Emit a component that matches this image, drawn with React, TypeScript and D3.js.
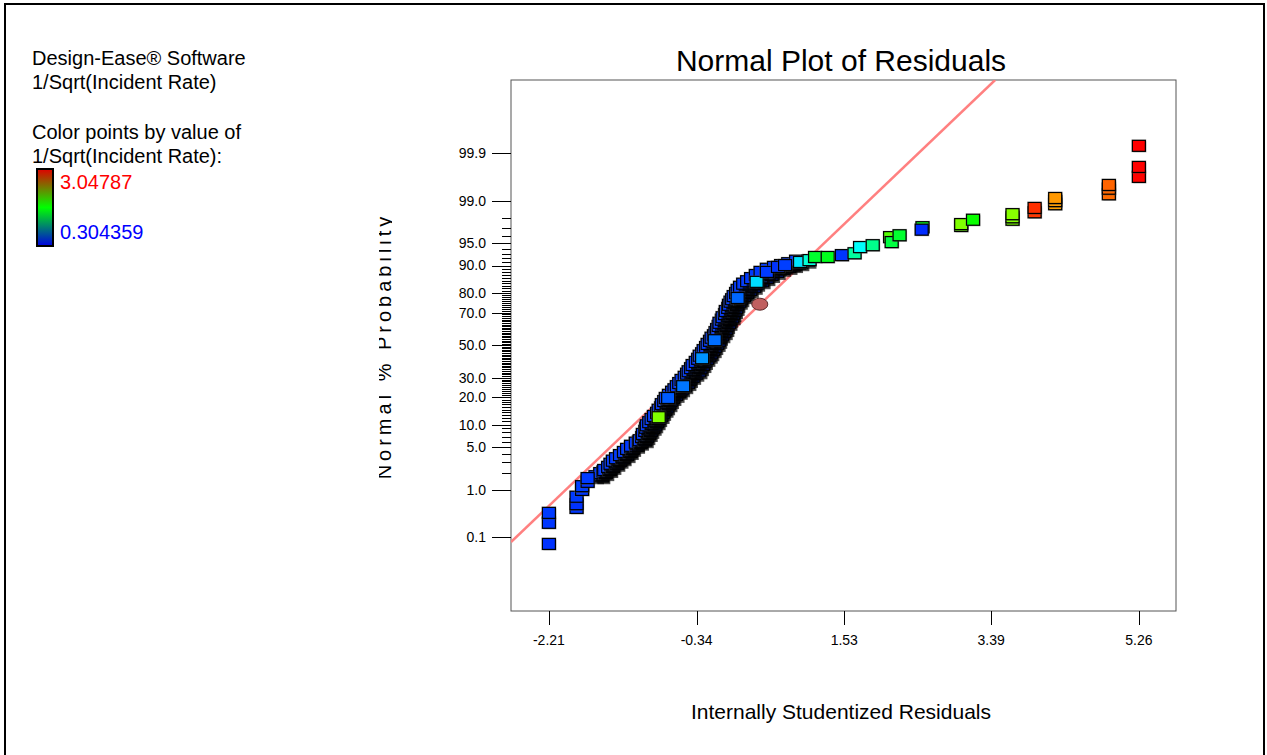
import React from 'react';
import * as d3 from 'd3';

// ---------- data ----------
const X_TICKS = [-2.21, -0.34, 1.53, 3.39, 5.26];
const PROB_LABELS = [0.1, 1, 5, 10, 20, 30, 50, 70, 80, 90, 95, 99, 99.9];
const PROB_LABEL_TEXT = ['0.1', '1.0', '5.0', '10.0', '20.0', '30.0', '50.0', '70.0', '80.0', '90.0', '95.0', '99.0', '99.9'];

const COLOR_MIN = 0.304359;
const COLOR_MAX = 3.04787;

// dense central band: one row per normal score, two residuals per row
const BAND_SCORE = [
  -2.11, -2.06, -2.01, -1.96, -1.91, -1.86, -1.82, -1.77, -1.72, -1.67, -1.62, -1.57, -1.53, -1.48, -1.43, -1.38,
  -1.33, -1.29, -1.24, -1.19, -1.14, -1.09, -1.04, -1.0, -0.95, -0.9, -0.85, -0.8, -0.75, -0.71, -0.66,
  -0.61, -0.56, -0.51, -0.46, -0.42, -0.37, -0.32, -0.27, -0.22, -0.17, -0.13, -0.08, -0.03, 0.02, 0.07, 0.12,
  0.16, 0.21, 0.26, 0.31, 0.36, 0.41, 0.45, 0.5, 0.55, 0.6, 0.65, 0.7, 0.74, 0.79, 0.84, 0.89, 0.94, 0.99,
  1.03, 1.08, 1.13, 1.18, 1.23, 1.26, 1.29, 1.32, 1.36,
];
const BAND_LEFT = [
  -1.62, -1.56, -1.51, -1.46, -1.43, -1.4, -1.36, -1.31, -1.26, -1.22, -1.17, -1.11, -1.06, -1.03, -1.02, -0.99,
  -0.98, -0.97, -0.94, -0.91, -0.88, -0.84, -0.82, -0.79, -0.78, -0.75, -0.73, -0.69, -0.65, -0.62, -0.59,
  -0.56, -0.53, -0.49, -0.46, -0.44, -0.41, -0.39, -0.35, -0.32, -0.3, -0.27, -0.25, -0.22, -0.2, -0.17, -0.15,
  -0.12, -0.1, -0.08, -0.06, -0.05, -0.02, -0.01, 0.02, 0.03, 0.06, 0.07, 0.09, 0.11, 0.13, 0.16, 0.18, 0.21, 0.25,
  0.3, 0.35, 0.41, 0.47, 0.55, 0.64, 0.73, 0.82, 0.92,
];
const BAND_RIGHT = [
  -1.54, -1.49, -1.44, -1.4, -1.35, -1.31, -1.27, -1.22, -1.18, -1.15, -1.1, -1.05, -0.99, -0.97, -0.94, -0.92,
  -0.89, -0.87, -0.84, -0.82, -0.79, -0.77, -0.74, -0.72, -0.69, -0.67, -0.64, -0.6, -0.56, -0.53, -0.49,
  -0.45, -0.43, -0.39, -0.35, -0.31, -0.29, -0.26, -0.24, -0.21, -0.18, -0.16, -0.13, -0.11, -0.08, -0.06, -0.05,
  -0.02, 0.01, 0.03, 0.04, 0.07, 0.08, 0.11, 0.12, 0.14, 0.16, 0.17, 0.2, 0.22, 0.26, 0.3, 0.34, 0.39, 0.42,
  0.49, 0.55, 0.61, 0.68, 0.75, 0.83, 0.9, 0.98, 1.07,
];
// in-between points of the band
const BAND_MID_SCORE = [
  -2.085, -2.035, -1.985, -1.935, -1.885, -1.84, -1.795, -1.745, -1.695, -1.645, -1.595, -1.55, -1.505, -1.455, -1.405,
  -1.355, -1.31, -1.265, -1.215, -1.165, -1.115, -1.065, -1.02, -0.975, -0.925, -0.875, -0.825, -0.775, -0.73, -0.685,
  -0.635, -0.585, -0.535, -0.485, -0.44, -0.395, -0.345, -0.295, -0.245, -0.195, -0.15, -0.105, -0.055, -0.005, 0.045,
  0.095, 0.14, 0.185, 0.235, 0.285, 0.335, 0.385, 0.43, 0.475, 0.525, 0.575, 0.625, 0.675, 0.72, 0.765, 0.815, 0.865,
  0.915, 0.965, 1.01, 1.055, 1.105, 1.155, 1.205, 1.245, 1.275, 1.305, 1.34,
];
const BAND_MID_RESID = [
  -1.55, -1.52, -1.45, -1.42, -1.36, -1.34, -1.28, -1.25, -1.19, -1.17, -1.1, -1.07, -1.01, -1.0, -0.96,
  -0.95, -0.92, -0.91, -0.87, -0.86, -0.82, -0.81, -0.77, -0.76, -0.72, -0.71, -0.66, -0.64, -0.58, -0.57,
  -0.51, -0.5, -0.45, -0.43, -0.39, -0.38, -0.34, -0.32, -0.28, -0.26, -0.22, -0.21, -0.17, -0.16, -0.12,
  -0.11, -0.07, -0.06, -0.03, -0.02, 0.01, 0.02, 0.05, 0.06, 0.08, 0.1, 0.11, 0.14, 0.15, 0.19, 0.22, 0.27,
  0.29, 0.33, 0.38, 0.44, 0.48, 0.56, 0.61, 0.7, 0.77, 0.87, 0.94,
];
const BAND_LEFT_VALUE = 0.46;
const BAND_RIGHT_VALUE = 0.42;
const BAND_MID_VALUE = 0.5;

// individually visible points (drawn in this order, later on top)
const PT_RESID = [
  -2.21, -2.21, -2.21, -1.86, -1.86, -1.86, -1.79, -1.79, -1.72, -1.72,
  -0.7, -0.51, -0.82, -0.27, -0.11, 0.18, 0.42, 0.55, 0.69, 0.78,
  0.97, 1.09, 1.16, 1.32, 1.5, 1.66, 1.73, 1.89, 2.11, 2.13, 2.23, 2.52, 2.51,
  3.01, 3.01, 3.16, 3.66, 3.66, 3.66, 3.94, 3.94, 4.2, 4.2, 4.2, 4.88, 4.88, 4.88,
  5.26, 5.26, 5.26,
];
const PT_SCORE = [
  -3.2, -2.86, -2.7, -2.62, -2.56, -2.44, -2.33, -2.27, -2.2, -2.14,
  -0.85, -0.66, -1.16, -0.21, 0.08, 0.76, 1.02, 1.18, 1.26, 1.29,
  1.34, 1.37, 1.42, 1.42, 1.45, 1.48, 1.58, 1.61, 1.74, 1.66, 1.77, 1.9, 1.86,
  1.92, 1.95, 2.02, 2.02, 2.06, 2.11, 2.14, 2.21, 2.27, 2.32, 2.37, 2.43, 2.52, 2.58,
  2.71, 2.87, 3.21,
];
const PT_VALUE = [
  0.44, 0.45, 0.46, 0.45, 0.44, 0.46, 0.45, 0.47, 0.44, 0.46,
  0.55, 0.62, 2.02, 0.7, 0.6, 0.58, 0.9, 0.46, 0.44, 0.47,
  0.92, 1.1, 1.55, 1.6, 0.45, 1.25, 1.0, 1.3, 1.9, 1.5, 1.55, 1.6, 0.42,
  1.95, 2.02, 1.7, 2.0, 2.02, 2.04, 2.9, 2.92, 2.62, 2.63, 2.64, 2.76, 2.77, 2.78,
  3.04, 3.045, 3.04787,
];

// highlighted (selected) run shown as an ellipse
const SELECTED_RESID = [0.46];
const SELECTED_SCORE = [0.66];

// reference normal line
const LINE_RESID = [-2.69, 3.44];
const LINE_SCORE = [-3.17, 4.27];

// ---------- helpers ----------
function probit(p: number): number {
  const a = [-39.69683028665376, 220.9460984245205, -275.9285104469687, 138.357751867269, -30.66479806614716, 2.506628277459239];
  const b = [-54.47609879822406, 161.5858368580409, -155.6989798598866, 66.80131188771972, -13.28068155288572];
  const c = [-0.007784894002430293, -0.3223964580411365, -2.400758277161838, -2.549732539343734, 4.374664141464968, 2.938163982698783];
  const d = [0.007784695709041462, 0.3224671290700398, 2.445134137142996, 3.754408661907416];
  const plow = 0.02425;
  if (p < plow) {
    const q = Math.sqrt(-2 * Math.log(p));
    return (((((c[0] * q + c[1]) * q + c[2]) * q + c[3]) * q + c[4]) * q + c[5]) / ((((d[0] * q + d[1]) * q + d[2]) * q + d[3]) * q + 1);
  }
  if (p <= 1 - plow) {
    const q = p - 0.5;
    const r = q * q;
    return ((((((a[0] * r + a[1]) * r + a[2]) * r + a[3]) * r + a[4]) * r + a[5]) * q) / (((((b[0] * r + b[1]) * r + b[2]) * r + b[3]) * r + b[4]) * r + 1);
  }
  const q = Math.sqrt(-2 * Math.log(1 - p));
  return -(((((c[0] * q + c[1]) * q + c[2]) * q + c[3]) * q + c[4]) * q + c[5]) / ((((d[0] * q + d[1]) * q + d[2]) * q + d[3]) * q + 1);
}

const FONT = '"Liberation Sans", Arial, Helvetica, sans-serif';

export default function App() {
  const left = 511, right = 1176, top = 80, bottom = 611;
  const x = d3.scaleLinear().domain([-2.69, 5.73]).range([left, right]);
  const y = d3.scaleLinear().domain([-4.28, 4.27]).range([bottom, top]);
  const hue = d3.scaleLinear().domain([COLOR_MIN, COLOR_MAX]).range([240, 0]).clamp(true);
  const color = (v: number) => d3.hsl(hue(v), 1, 0.5).formatHex();

  const minor = d3.range(2, 99).filter((p) => !PROB_LABELS.includes(p));

  type P = { r: number; z: number; v: number; dense: boolean };
  const pts: P[] = [];
  BAND_SCORE.forEach((z, i) => {
    pts.push({ r: BAND_LEFT[i], z, v: BAND_LEFT_VALUE, dense: true });
    pts.push({ r: BAND_RIGHT[i], z, v: BAND_RIGHT_VALUE, dense: true });
    if (i < BAND_MID_SCORE.length) pts.push({ r: BAND_MID_RESID[i], z: BAND_MID_SCORE[i], v: BAND_MID_VALUE, dense: true });
  });
  PT_RESID.forEach((r, i) => pts.push({ r, z: PT_SCORE[i], v: PT_VALUE[i], dense: false }));

  const line = d3.line<number>().x((_, i) => x(LINE_RESID[i])).y((s) => y(s));

  const sw = 13, sh = 11;

  return (
    <svg width={1267} height={755} style={{ position: 'absolute', left: 0, top: 0, background: '#fff' }} fontFamily={FONT}>
      <defs>
        <clipPath id="plotClip">
          <rect x={left} y={top} width={right - left} height={bottom - top} />
        </clipPath>
        <clipPath id="ylabClip">
          <rect x={379} y={200} width={13} height={300} />
        </clipPath>
        <linearGradient id="legendGrad" x1="0" y1="0" x2="0" y2="1">
          <stop offset="0" stopColor="#e00000" />
          <stop offset="0.5" stopColor="#00ff00" />
          <stop offset="1" stopColor="#0000e0" />
        </linearGradient>
      </defs>
      <rect x={0} y={0} width={1267} height={755} fill="#fff" />
      <rect x={5} y={4} width={1259} height={770} fill="none" stroke="#000" strokeWidth={2} />

      {/* legend */}
      <g fontSize={20} fill="#000">
        <text x={32} y={65}>Design-Ease® Software</text>
        <text x={32} y={89}>1/Sqrt(Incident Rate)</text>
        <text x={32} y={139}>Color points by value of</text>
        <text x={32} y={163}>1/Sqrt(Incident Rate):</text>
        <rect x={37} y={169} width={16} height={77} fill="url(#legendGrad)" stroke="#000" strokeWidth={2} />
        <text x={60} y={189} fill="#ff0000">{String(COLOR_MAX)}</text>
        <text x={60} y={239} fill="#0000ff">{String(COLOR_MIN)}</text>
      </g>

      {/* title */}
      <text x={841} y={71} fontSize={30} textAnchor="middle" fill="#000">Normal Plot of Residuals</text>

      {/* y axis title (clipped) */}
      <g clipPath="url(#ylabClip)">
        <text transform="translate(391,346) rotate(-90)" fontSize={20} letterSpacing={4} textAnchor="middle" fill="#000">
          Normal % Probability
        </text>
      </g>

      {/* plot frame */}
      <rect x={left} y={top} width={right - left} height={bottom - top} fill="none" stroke="#555" strokeWidth={1} />

      {/* y ticks */}
      <g stroke="#000" strokeWidth={1}>
        {minor.map((p) => {
          const yy = Math.round(y(probit(p / 100))) + 0.5;
          return <line key={'m' + p} x1={502} x2={left} y1={yy} y2={yy} />;
        })}
        {PROB_LABELS.map((p) => {
          const yy = Math.round(y(probit(p / 100))) + 0.5;
          return <line key={'M' + p} x1={492} x2={left} y1={yy} y2={yy} />;
        })}
      </g>
      <g fontSize={14} textAnchor="end" fill="#000">
        {PROB_LABELS.map((p, i) => (
          <text key={p} x={486} y={y(probit(p / 100))} dy="0.35em">{PROB_LABEL_TEXT[i]}</text>
        ))}
      </g>

      {/* x ticks */}
      <g stroke="#000" strokeWidth={1}>
        {X_TICKS.map((t) => {
          const xx = Math.round(x(t)) + 0.5;
          return <line key={t} x1={xx} x2={xx} y1={bottom} y2={bottom + 14} />;
        })}
      </g>
      <g fontSize={14} textAnchor="middle" fill="#000">
        {X_TICKS.map((t) => (
          <text key={t} x={x(t)} y={645}>{t.toFixed(2)}</text>
        ))}
      </g>
      <text x={841} y={719} fontSize={21} textAnchor="middle" fill="#000">Internally Studentized Residuals</text>

      {/* normal line */}
      <g clipPath="url(#plotClip)">
        <path d={line(LINE_SCORE) || ''} stroke="#ff8080" strokeWidth={2.5} fill="none" />
      </g>

      {/* points */}
      <g>
        {pts.map((p, i) => {
          const cx = x(p.r), cy = y(p.z);
          return (
            <g key={i}>
              <rect x={cx - sw / 2 - 1} y={cy - sh / 2 - 1} width={sw + 2} height={sh + 2} fill="#808080" opacity={0.4} />
              {p.dense ? (
                <rect x={cx - sw / 2 + 2} y={cy - sh / 2 + 2.5} width={sw} height={sh} fill="#000" opacity={0.7} />
              ) : (
                <rect x={cx - sw / 2 + 1} y={cy - sh / 2 + 1} width={sw} height={sh} fill="#000" opacity={0.25} />
              )}
              <rect x={cx - sw / 2} y={cy - sh / 2} width={sw} height={sh} fill={color(p.v)} stroke="#000" strokeWidth={1.2} />
            </g>
          );
        })}
      </g>

      {/* selected point */}
      {SELECTED_RESID.map((r, i) => (
        <ellipse key={i} cx={x(r)} cy={y(SELECTED_SCORE[i])} rx={8} ry={6} fill="#c06060" stroke="#5a2a2a" strokeWidth={1} />
      ))}
    </svg>
  );
}
